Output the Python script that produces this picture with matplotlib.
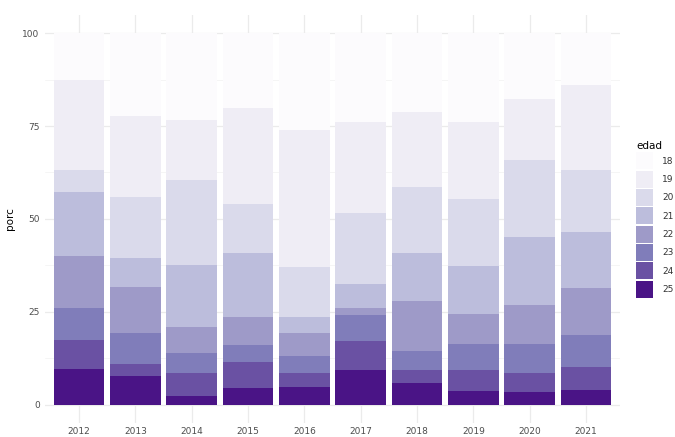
import matplotlib
matplotlib.use("Agg")
import matplotlib.pyplot as plt
from matplotlib.patches import Patch
import numpy as np

years = ["2012", "2013", "2014", "2015", "2016", "2017", "2018", "2019", "2020", "2021"]
edades = ["18", "19", "20", "21", "22", "23", "24", "25"]

p18 = [12.6, 22.2, 23.4, 20.2, 26.0, 23.8, 21.3, 23.8, 17.7, 13.9]
p19 = [24.2, 22.0, 16.1, 25.8, 36.9, 24.7, 20.2, 20.8, 16.4, 22.9]
p20 = [5.9, 16.2, 22.9, 13.1, 13.4, 18.9, 17.6, 18.0, 20.8, 16.6]
p21 = [17.2, 8.0, 16.7, 17.2, 4.3, 6.6, 13.0, 13.1, 18.3, 15.3]
p22 = [14.0, 12.4, 7.0, 7.6, 6.3, 1.9, 13.6, 8.1, 10.6, 12.6]
p23 = [8.7, 8.4, 5.5, 4.7, 4.6, 6.9, 5.0, 7.0, 7.8, 8.5]
p24 = [7.7, 3.0, 6.1, 6.9, 3.9, 7.9, 3.6, 5.6, 5.1, 6.2]
p25 = [9.7, 7.8, 2.3, 4.5, 4.6, 9.3, 5.7, 3.6, 3.3, 4.0]

colors = ["#FCFBFD", "#EFEDF5", "#DADAEB", "#BCBDDC", "#9E9AC8", "#807DBA", "#6A51A3", "#4A1486"]
series = [p18, p19, p20, p21, p22, p23, p24, p25]

fig = plt.figure(figsize=(6.75, 4.37), dpi=100)
ax = fig.add_axes([45.2 / 675, (437 - 423.1) / 437, (619.8 - 45.2) / 675, (423.1 - 14.7) / 437])

x = np.arange(len(years))
bottom = np.zeros(len(years))
# stack from 25 (bottom) to 18 (top)
for vals, col in zip(series[::-1], colors[::-1]):
    ax.bar(x, vals, bottom=bottom, width=0.9, color=col, edgecolor="none", zorder=3)
    bottom += np.array(vals)

ax.set_xlim(-0.6, len(years) - 1 + 0.6)
ax.set_ylim(-5, 105)
ax.set_yticks([0, 25, 50, 75, 100])
ax.set_yticks([12.5, 37.5, 62.5, 87.5], minor=True)
ax.set_xticks(x)
ax.set_xticklabels(years)
ax.grid(True, which="major", color="#EBEBEB", lw=0.9, zorder=0)
ax.grid(True, which="minor", axis="y", color="#F2F2F2", lw=0.5, zorder=0)
for s in ax.spines.values():
    s.set_visible(False)
ax.tick_params(axis="both", which="both", length=0, labelsize=6.5, labelcolor="#4D4D4D")
ax.tick_params(axis="x", pad=3)
ax.tick_params(axis="y", pad=4)
ax.set_ylabel("porc", fontsize=7.5, color="black", labelpad=5)

handles = [Patch(facecolor=c, edgecolor="none", label=e) for c, e in zip(colors, edades)]
leg = fig.legend(handles=handles, title="edad", loc="upper left",
                 bbox_to_anchor=(636 / 675, 1 - 141 / 437), frameon=False,
                 fontsize=6.5, title_fontsize=7.5, handlelength=1.9, handleheight=2.52,
                 labelspacing=0.15, handletextpad=1.0, borderpad=0, borderaxespad=0,
                 alignment="left")
for t in leg.get_texts():
    t.set_color("#333333")

fig.savefig("out.png", dpi=100)
